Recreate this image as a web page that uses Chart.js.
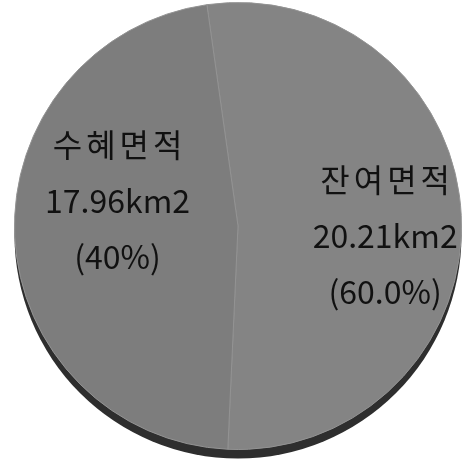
<!DOCTYPE html>
<html>
<head>
<meta charset="utf-8">
<script src="https://cdn.jsdelivr.net/npm/chart.js@4"></script>
<style>
  html, body { margin: 0; padding: 0; background: #fff; }
  #wrap { width: 476px; height: 464px; }
</style>
</head>
<body>
<div id="wrap"><canvas id="areaPie"></canvas></div>
<script>
// Chart data
const categories = ['잔여면적', '수혜면적'];
const areas = [20.21, 17.96];
const percentLabels = ['(60.0%)', '(40%)'];
const sliceColors = ['#848484', '#7d7d7d'];

// per-slice nudge for the text block (radius fraction, angle shift in radians)
const labelPlace = [
    { r: 0.66, shift: 0.115 },
    { r: 0.55, shift: 0.25 }
];

// dark rim under the pie so it looks like the 3D original
const rimPlugin = {
    id: 'rim',
    beforeDatasetsDraw(chart) {
        const arc = chart.getDatasetMeta(0).data[0];
        if (!arc) return;
        const ctx = chart.ctx;
        ctx.save();
        ctx.fillStyle = '#2e2e2e';
        ctx.beginPath();
        ctx.arc(arc.x, arc.y + 9, arc.outerRadius, 0, Math.PI * 2);
        ctx.fill();
        ctx.restore();
    }
};

// text inside each slice
const sliceLabels = {
    id: 'sliceLabels',
    afterDatasetsDraw(chart) {
        const ctx = chart.ctx;
        const meta = chart.getDatasetMeta(0);
        ctx.save();
        ctx.fillStyle = '#111';
        ctx.font = '32px "Noto Sans CJK KR", "Noto Sans", sans-serif';
        ctx.textAlign = 'center';
        ctx.textBaseline = 'middle';
        meta.data.forEach((arc, i) => {
            const mid = (arc.startAngle + arc.endAngle) / 2 + labelPlace[i].shift;
            const r = arc.outerRadius * labelPlace[i].r;
            const x = arc.x + Math.cos(mid) * r;
            const y = arc.y + Math.sin(mid) * r;
            const lines = [categories[i], areas[i].toFixed(2) + 'km2', percentLabels[i]];
            lines.forEach((t, k) => {
                // korean title is spaced a little wider in the original
                ctx.letterSpacing = k === 0 ? '4px' : '0px';
                ctx.fillText(t, x + (k === 0 ? 2 : 0), y + (k - 1) * 56);
            });
        });
        ctx.restore();
    }
};

const ctx = document.getElementById('areaPie').getContext('2d');
const areaPie = new Chart(ctx, {
    type: 'pie',
    data: {
        labels: categories,
        datasets: [{
            data: areas,
            backgroundColor: sliceColors,
            borderColor: '#939393',
            borderWidth: 1
        }]
    },
    options: {
        responsive: true,
        maintainAspectRatio: false,
        animation: false,
        rotation: -8,
        layout: { padding: { top: 2, bottom: 14, left: 0, right: 0 } },
        plugins: {
            legend: { display: false },
            tooltip: { enabled: false }
        }
    },
    plugins: [rimPlugin, sliceLabels]
});
</script>
</body>
</html>
